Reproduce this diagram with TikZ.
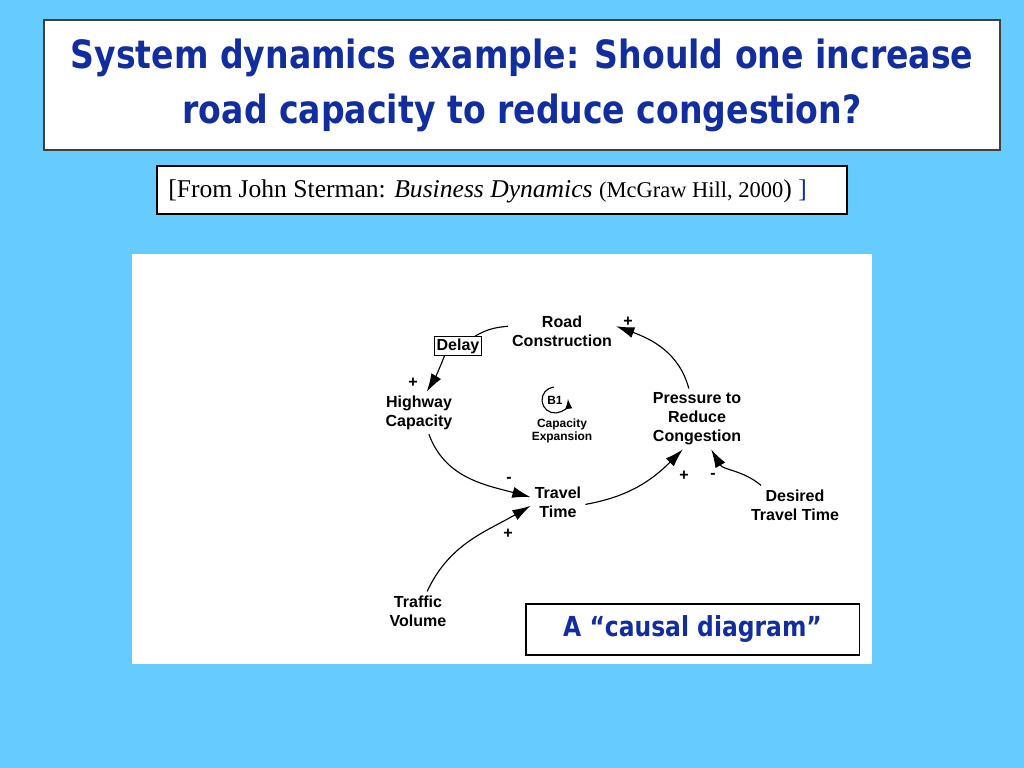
\documentclass[tikz,border=0pt]{standalone}
\usepackage{fontspec}
\setmainfont{Liberation Serif}
\newfontfamily\diagfont{Liberation Sans}
\newfontfamily\slidefont[FakeStretch=0.85]{DejaVu Sans}
\usepackage{tikz}
\usetikzlibrary{arrows.meta,positioning,calc}
\definecolor{slidebg}{RGB}{102,204,255}
\definecolor{slideblue}{RGB}{18,46,158}

\begin{document}
\begin{tikzpicture}[x=0.025cm, y=0.025cm,
    var/.style={font=\diagfont\bfseries\fontsize{11.4}{13.5}\selectfont, align=center, inner sep=2pt, outer sep=1pt},
    sign/.style={font=\diagfont\bfseries\fontsize{11.4}{13.5}\selectfont, inner sep=0pt},
    link/.style={line width=0.8pt},
    cause/.style={link, -{Latex[length=13pt, width=8pt]}},
    panel/.style={draw=black, fill=white, line width=0.8pt}]

    % Slide background
    \fill[slidebg] (0,0) rectangle (1024,768);
    \useasboundingbox (0,0) rectangle (1024,768);

    % Title box
    \node[panel, draw=black!75, line width=1.2pt, minimum width=680pt, minimum height=92.5pt,
          font=\slidefont\bfseries\fontsize{27.7}{39}\selectfont, text=slideblue, align=center] (title) at (522,683)
        {System dynamics example: Should one increase\\road capacity to reduce congestion?};

    % Source line
    \draw[panel] (157,554) rectangle (847,602);
    \node[anchor=west, font=\fontsize{18.2}{22}\selectfont, inner sep=0pt] (source) at (168,577)
        {[From John Sterman: \textit{Business Dynamics} {\fontsize{16}{20}\selectfont(McGraw Hill, 2000})\ \textcolor{slideblue}{]}};

    % Diagram sheet
    \fill[white] (132,104) rectangle (872,514);

    % Variables
    \node[var] (road) at (562,437) {Road\\Construction};
    \node[var, draw, line width=0.7pt, inner sep=1pt, outer sep=0pt, minimum width=33pt, minimum height=14pt] (delay) at (458,422) {Delay};
    \node[var] (highway) at (419,355) {Highway\\Capacity};
    \node[var] (pressure) at (697,349) {Pressure to\\Reduce\\Congestion};
    \node[var] (travel) at (558,266) {Travel\\Time};
    \node[var] (desired) at (795,263) {Desired\\Travel Time};
    \node[var] (traffic) at (418,157) {Traffic\\Volume};

    % Loop marker
    \node[font=\diagfont\bfseries\fontsize{8.5}{9}\selectfont, inner sep=0pt] (loop) at (555,368) {B1};
    \draw[link, -{Latex[length=7pt, width=5pt]}] ($(loop)+(95:13)$) arc[start angle=95, end angle=365, radius=13];
    \node[font=\diagfont\bfseries\fontsize{8.5}{9.2}\selectfont, align=center, inner sep=0pt] (loopname) at (562,337) {Capacity\\Expansion};

    % Causal links
    \draw[link] (road.175) to[out=185, in=30] (delay.30);
    \draw[cause] (delay.216) to[bend left=5] (highway.70);
    \draw[cause] (highway.-65) to[out=-70, in=165] (travel.170);
    \draw[cause] (traffic.65) to[out=65, in=210] (travel.188);
    \draw[cause] (travel.-5) to[out=10, in=225] (pressure.-115);
    \draw[cause] (desired.150) to[out=140, in=-60] (pressure.-65);
    \draw[cause] (pressure.105) to[out=105, in=-20] (road.5);

    % Link polarities
    \node[sign] (plusroad) at (628,446) {+};
    \node[sign] (plushighway) at (413,385) {+};
    \node[sign] (minustravel) at (509,288) {-};
    \node[sign] (plustravel) at (508,234) {+};
    \node[sign] (pluspressure) at (684,292) {+};
    \node[sign] (minuspressure) at (713,292) {-};

    % Caption
    \node[panel, minimum width=236.9pt, minimum height=36.3pt,
          font=\slidefont\bfseries\fontsize{19.6}{24}\selectfont, text=slideblue] (caption) at (692.5,138.5) {A “causal diagram”};
\end{tikzpicture}
\end{document}
